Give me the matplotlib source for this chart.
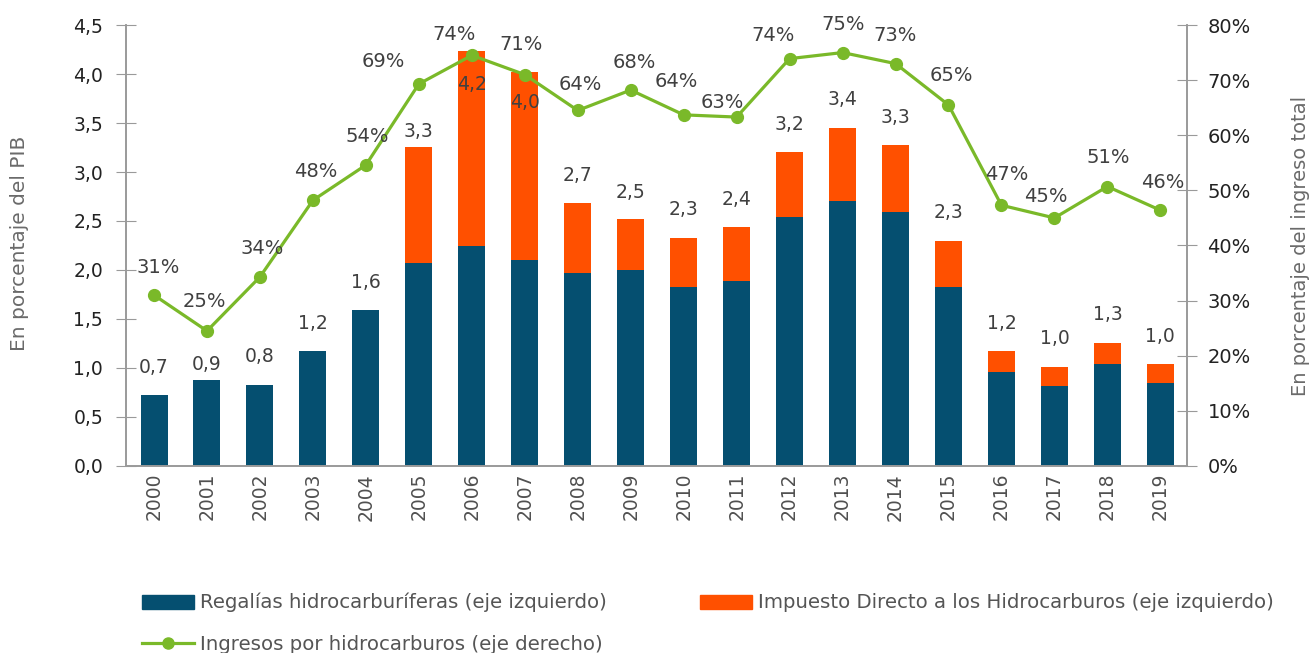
import numpy as np
import matplotlib.pyplot as plt
from matplotlib.patches import Patch
from matplotlib.lines import Line2D

plt.rcParams['font.family'] = ['DejaVu Sans']

# Datos
anios = ['2000', '2001', '2002', '2003', '2004', '2005', '2006', '2007', '2008', '2009',
         '2010', '2011', '2012', '2013', '2014', '2015', '2016', '2017', '2018', '2019']
regalias = [0.72, 0.88, 0.83, 1.17, 1.59, 2.07, 2.24, 2.10, 1.97, 2.00,
            1.83, 1.89, 2.54, 2.70, 2.59, 1.83, 0.96, 0.82, 1.04, 0.85]
idh = [0.00, 0.00, 0.00, 0.00, 0.00, 1.19, 1.99, 1.92, 0.71, 0.52,
       0.50, 0.55, 0.66, 0.75, 0.69, 0.47, 0.21, 0.19, 0.22, 0.19]
total_lbl = ['0,7', '0,9', '0,8', '1,2', '1,6', '3,3', '4,2', '4,0', '2,7', '2,5',
             '2,3', '2,4', '3,2', '3,4', '3,3', '2,3', '1,2', '1,0', '1,3', '1,0']
ingresos = [31.0, 24.5, 34.3, 48.2, 54.6, 69.3, 74.5, 71.0, 64.5, 68.2,
            63.7, 63.3, 73.9, 75.0, 73.0, 65.5, 47.3, 45.0, 50.7, 46.4]
ingresos_lbl = ['31%', '25%', '34%', '48%', '54%', '69%', '74%', '71%', '64%', '68%',
                '64%', '63%', '74%', '75%', '73%', '65%', '47%', '45%', '51%', '46%']

azul = '#054F70'
naranja = '#FF5000'
verde = '#7AB929'
texto = '#404040'
gris = '#9A9A9A'

x = np.arange(len(anios))
total = np.array(regalias) + np.array(idh)

fig = plt.figure(figsize=(13.12, 6.53), dpi=100)
ax = fig.add_axes([0.096, 0.2864, 0.809, 0.6753])
ax2 = ax.twinx()

ax.bar(x, regalias, width=0.51, color=azul, zorder=2)
ax.bar(x, idh, width=0.51, bottom=regalias, color=naranja, zorder=2)

# etiquetas de barras (desplazamiento en pixeles)
bar_dy = [28, 15, 28, 28, 28, 15, -33, -30, 28, 27,
          28, 27, 28, 28, 27, 28, 28, 29, 28, 28]
for i in range(len(x)):
    ax.annotate(total_lbl[i], (x[i], total[i]), xytext=(0, bar_dy[i]),
                textcoords='offset pixels', ha='center', va='center',
                fontsize=13.5, color=texto, zorder=5)

ax.set_xlim(-0.53, 19.51)
ax.set_ylim(0, 4.5)
ax.set_yticks(np.arange(0, 4.51, 0.5))
ax.set_yticklabels([f'{v:.1f}'.replace('.', ',') for v in np.arange(0, 4.51, 0.5)])
ax.set_xticks(x)
ax.set_xticklabels(anios, rotation=90, fontsize=13.5, color='#505050')
ax.tick_params(axis='x', length=0, pad=5)
ax.tick_params(axis='y', direction='inout', length=15, color=gris, labelsize=13.5,
               labelcolor='#222222', pad=9)

ax2.plot(x, ingresos, color=verde, lw=2.3, marker='o', ms=8.5, zorder=4)
lin_off = [(4, 28), (-3, 29), (2, 28), (3, 29), (1, 29), (-36, 22), (-18, 21), (-4, 30),
           (3, 26), (4, 28), (-7, 33), (-14, 15), (-17, 23), (1, 28), (0, 28), (3, 29),
           (5, 31), (-9, 21), (1, 29), (2, 28)]
for i in range(len(x)):
    ax2.annotate(ingresos_lbl[i], (x[i], ingresos[i]), xytext=lin_off[i],
                 textcoords='offset pixels', ha='center', va='center',
                 fontsize=14, color=texto, zorder=6)
ax2.set_ylim(0, 80)
ax2.set_yticks(np.arange(0, 81, 10))
ax2.set_yticklabels([f'{v}%' for v in range(0, 81, 10)])
ax2.tick_params(axis='y', direction='inout', length=15, color=gris, labelsize=14,
                labelcolor='#222222', pad=7)

for a in (ax, ax2):
    a.spines['top'].set_visible(False)
    for s in ('left', 'right', 'bottom'):
        a.spines[s].set_color(gris)
        a.spines[s].set_linewidth(1.2)

fig.text(20 / 1312, 0.627, 'En porcentaje del PIB', rotation=90, ha='center',
         va='center', fontsize=14.5, color='#6a6a6a')
fig.text(1300 / 1312, 0.624, 'En porcentaje del ingreso total', rotation=90,
         ha='center', va='center', fontsize=14, color='#6a6a6a')

handles = [Patch(color=azul), Line2D([], [], color=verde, lw=2.3, marker='o', ms=8),
           Patch(color=naranja)]
labels = ['Regalías hidrocarburíferas (eje izquierdo)',
          'Ingresos por hidrocarburos (eje derecho)',
          'Impuesto Directo a los Hidrocarburos (eje izquierdo)']
fig.legend(handles, labels, ncol=2, loc='upper left', bbox_to_anchor=(142 / 1312, 1 - 593 / 653),
           frameon=False, fontsize=14.2, labelcolor='#555555', handlelength=2.65,
           handleheight=0.7, handletextpad=0.3, columnspacing=4.7, labelspacing=1.15,
           borderpad=0, borderaxespad=0)

fig.savefig('out.png', dpi=100)
